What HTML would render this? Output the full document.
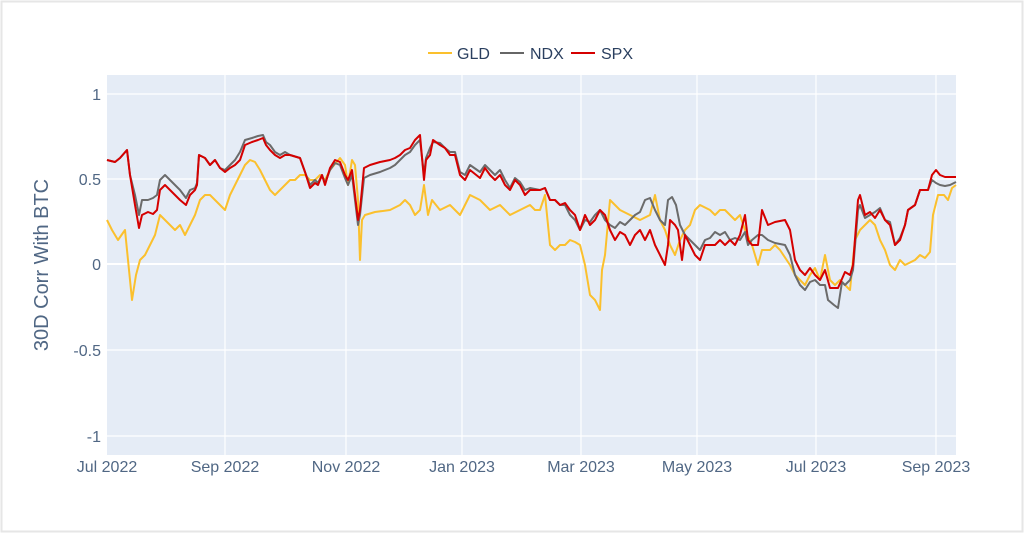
<!DOCTYPE html>
<html><head><meta charset="utf-8"><style>
body{margin:0;background:#fff;}
svg{display:block;font-family:"Liberation Sans",sans-serif;}
</style></head><body>
<svg width="1024" height="533" viewBox="0 0 1024 533">
<rect x="0" y="0" width="1024" height="533" fill="#fff"/>
<rect x="1.5" y="1.5" width="1021" height="530" fill="none" stroke="#e6e6e6" stroke-width="2"/>
<rect x="107" y="75" width="849" height="380" fill="#e5ecf6"/>
<g stroke="#fff" stroke-width="1.2">
<line x1="107" x2="956" y1="94" y2="94"/><line x1="107" x2="956" y1="179" y2="179"/>
<line x1="107" x2="956" y1="350" y2="350"/><line x1="107" x2="956" y1="436" y2="436"/>
<line x1="225" x2="225" y1="75" y2="455"/><line x1="346" x2="346" y1="75" y2="455"/>
<line x1="462" x2="462" y1="75" y2="455"/><line x1="581" x2="581" y1="75" y2="455"/>
<line x1="697" x2="697" y1="75" y2="455"/><line x1="816" x2="816" y1="75" y2="455"/>
<line x1="936" x2="936" y1="75" y2="455"/>
</g>
<line x1="107" x2="956" y1="264" y2="264" stroke="#fff" stroke-width="2"/>
<g fill="#506784" font-size="16" text-anchor="end">
<text x="101" y="100">1</text><text x="101" y="185">0.5</text><text x="101" y="270">0</text>
<text x="101" y="356">-0.5</text><text x="101" y="442">-1</text>
</g>
<g fill="#506784" font-size="16" text-anchor="middle">
<text x="107" y="472">Jul 2022</text><text x="225" y="472">Sep 2022</text><text x="346" y="472">Nov 2022</text>
<text x="462" y="472">Jan 2023</text><text x="581" y="472">Mar 2023</text><text x="697" y="472">May 2023</text>
<text x="816" y="472">Jul 2023</text><text x="936" y="472">Sep 2023</text>
</g>
<text transform="translate(48,265) rotate(-90)" fill="#506784" font-size="20" text-anchor="middle">30D Corr With BTC</text>
<g font-size="16" fill="#2a3f5f">
<line x1="428" x2="452" y1="53" y2="53" stroke="#fbc02d" stroke-width="2"/><text x="457" y="59">GLD</text>
<line x1="500" x2="524" y1="53" y2="53" stroke="#666" stroke-width="2"/><text x="530" y="59">NDX</text>
<line x1="571" x2="595" y1="53" y2="53" stroke="#d50000" stroke-width="2"/><text x="601" y="59">SPX</text>
</g>
<g fill="none" stroke-width="2" stroke-linejoin="round">
<polyline stroke="#fbc02d" points="107,220 112,230 118,240 125,230 128,260 132,300 136,275 140,260 145,255 150,245 155,235 160,215 165,220 170,225 175,230 180,225 185,235 190,225 195,215 200,200 205,195 210,195 215,200 220,205 225,210 230,195 235,185 240,175 245,165 250,160 255,162 260,170 265,180 270,190 275,195 280,190 285,185 290,180 295,180 300,175 305,175 310,180 315,180 320,175 325,180 330,170 340,158 345,165 348,185 352,160 355,165 358,200 360,260 362,220 365,215 375,212 390,210 400,205 405,200 410,205 415,215 420,210 424,185 428,215 432,200 440,210 450,205 455,210 460,215 465,205 470,195 480,200 490,210 500,205 510,215 520,210 530,205 535,210 540,210 545,195 550,245 555,250 560,245 565,245 570,240 575,242 580,245 585,265 590,295 595,300 600,310 602,270 605,255 610,200 615,205 620,210 630,215 640,220 650,215 655,195 660,220 665,230 670,245 675,255 680,240 685,230 690,225 695,210 700,205 710,210 715,215 720,210 725,210 735,220 740,215 745,230 752,245 758,265 762,250 770,250 775,245 780,250 790,265 795,275 800,280 805,285 810,275 815,268 820,280 825,255 830,280 835,285 840,280 845,285 850,290 855,240 860,230 870,220 875,225 880,240 885,250 890,265 895,270 900,260 905,265 915,260 920,255 925,258 930,252 933,215 938,195 944,195 948,200 952,188 956,185"/>
<polyline stroke="#6b6b6b" points="107,160 115,162 120,158 127,150 130,175 135,195 139,215 142,200 148,200 153,198 157,195 160,180 165,175 170,180 175,185 180,190 186,198 190,190 195,188 197,183 199,155 205,158 210,165 215,160 220,168 225,170 230,165 235,160 240,152 245,140 252,138 258,136 263,135 266,142 270,145 275,152 280,155 285,152 290,155 300,158 305,172 310,185 315,180 318,183 322,175 325,183 330,170 335,163 340,165 345,178 348,185 352,175 355,200 358,225 360,215 364,178 370,175 380,172 390,168 395,165 400,160 405,155 410,152 415,145 420,140 424,175 426,158 430,148 433,142 440,143 445,148 450,152 455,152 460,172 465,175 470,165 480,172 485,165 490,170 495,175 500,170 505,180 510,188 515,178 520,182 525,190 530,188 540,190 545,188 550,200 555,200 560,205 565,205 570,215 575,220 580,230 585,220 590,222 595,215 600,210 605,220 610,225 615,228 620,222 625,225 630,220 635,215 640,212 645,200 650,198 655,210 660,220 665,225 668,200 672,197 676,205 680,225 685,235 690,240 695,245 700,250 705,240 710,238 715,232 720,235 725,232 730,240 735,238 740,240 745,232 748,245 752,240 758,235 762,235 768,240 775,243 785,245 790,255 795,275 800,285 805,290 810,282 815,280 820,285 825,285 828,300 834,305 838,308 842,282 845,285 850,280 853,270 858,210 860,205 865,218 870,215 875,212 880,208 885,220 890,222 895,245 900,238 905,225 908,210 915,205 920,190 928,190 932,180 936,183 940,185 945,186 950,185 956,182"/>
<polyline stroke="#d50000" points="107,160 115,162 120,158 127,150 130,175 135,205 139,228 142,215 148,212 153,214 157,210 160,190 165,185 170,190 175,195 180,200 186,205 190,195 195,190 197,185 199,155 205,158 210,165 215,160 220,168 225,172 230,168 235,165 240,160 245,145 252,142 258,140 263,138 266,145 270,150 275,155 280,158 285,155 290,155 300,158 305,172 310,188 315,183 318,185 322,175 325,185 330,168 335,160 340,162 345,175 348,180 352,170 355,195 358,220 360,210 364,168 370,165 380,162 390,160 395,158 400,155 405,150 410,148 415,140 420,135 424,180 426,160 430,155 433,140 440,145 445,148 450,155 455,155 460,175 465,180 470,170 480,178 485,168 490,175 495,180 500,175 505,185 510,190 515,180 520,185 525,195 530,190 540,190 545,188 550,200 555,200 560,205 565,203 570,210 575,215 580,230 585,215 590,225 595,220 600,210 605,215 610,230 615,240 620,232 625,235 630,245 635,235 640,230 645,240 650,230 655,245 660,255 665,265 668,245 670,220 675,225 678,230 682,260 685,235 690,245 695,255 700,260 705,245 710,245 715,245 720,240 725,245 730,240 735,245 740,235 745,215 748,240 752,245 758,245 762,210 768,225 775,222 785,220 790,230 795,260 800,270 805,275 810,268 815,275 820,280 825,270 830,288 838,288 845,272 850,275 853,265 858,200 860,195 865,215 870,212 875,218 880,210 885,220 890,225 895,245 900,240 905,225 908,210 915,205 920,190 928,190 932,175 936,170 940,175 945,177 956,177"/>
</g>
</svg>
</body></html>
